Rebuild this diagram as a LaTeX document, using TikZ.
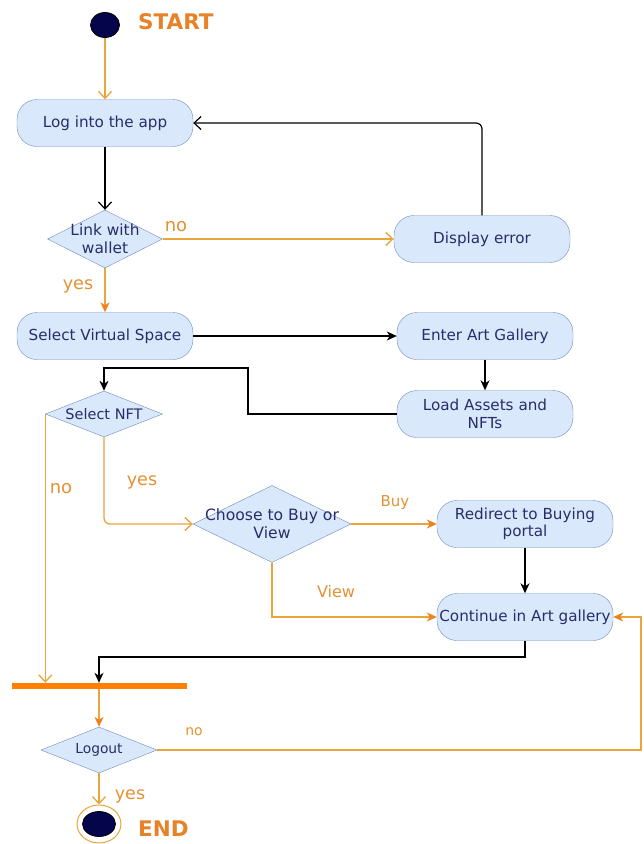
\documentclass[tikz,border=0pt]{standalone}
\usepackage{fontspec}
\setmainfont{DejaVu Sans}
\usetikzlibrary{shapes.geometric,arrows.meta,calc}
\definecolor{navyc}{RGB}{5,5,75}
\definecolor{boxfill}{RGB}{218,232,252}
\definecolor{boxline}{RGB}{110,140,185}
\definecolor{txtc}{RGB}{40,45,105}
\definecolor{lineor}{RGB}{232,165,60}
\definecolor{heador}{RGB}{240,130,30}
\definecolor{labor}{RGB}{228,145,50}
\definecolor{titor}{RGB}{232,130,40}
\definecolor{baror}{RGB}{255,128,0}
\begin{document}
\begin{tikzpicture}[x=1pt,y=-1pt,
  act/.style={draw=boxline, fill=boxfill, rounded corners=20pt, minimum width=176pt, minimum height=47pt, inner sep=0pt, align=center, text=txtc, font=\fontsize{15.2}{17.5}\selectfont},
  dec/.style={draw=boxline, fill=boxfill, diamond, inner sep=0pt},
  dectxt/.style={align=center, text=txtc, inner sep=0pt},
  bl/.style={draw=black, line width=1.2pt},
  ol/.style={draw=lineor, line width=1.3pt},
  openv/.style={-{Straight Barb[length=7pt,width=13pt]}},
  fillb/.style={-{Stealth[length=10pt,width=9pt,inset=3pt]}},
  fillo/.style={-{Stealth[length=10pt,width=9pt,inset=3pt,color=heador]}},
  lab/.style={text=labor, inner sep=0pt},
  title/.style={text=titor, font=\bfseries\fontsize{21.5}{24}\selectfont, inner sep=0pt},
]
\useasboundingbox (0,0) rectangle (644,844);

% start
\node[ellipse, draw=black, fill=navyc, minimum width=29pt, minimum height=25pt, inner sep=0pt, line width=0.8pt] (start) at (105,25) {};
\node[title, anchor=west] (starttxt) at (138,22) {START};

% activities
\node[act] (log) at (105,123) {Log into the app};
\node[act] (disp) at (482,239) {Display error};
\node[act] (sel) at (105,336) {Select Virtual Space};
\node[act] (enter) at (485,336) {Enter Art Gallery};
\node[act] (load) at (485,414) {Load Assets and\\NFTs};
\node[act] (redir) at (525,524) {Redirect to Buying\\portal};
\node[act] (cont) at (525,617) {Continue in Art gallery};

% decisions
\node[dec, minimum width=115pt, minimum height=58pt, label={[dectxt, font=\fontsize{15.4}{18}\selectfont]center:Link with\\wallet}] (link) at (105,239) {};
\node[dec, minimum width=117pt, minimum height=46pt, label={[dectxt, font=\fontsize{14.5}{17}\selectfont]center:Select NFT}] (nft) at (104,414) {};
\node[dec, minimum width=158pt, minimum height=77pt, label={[dectxt, font=\fontsize{15.6}{18}\selectfont]center:Choose to Buy or\\View}] (choose) at (272,524) {};
\node[dec, minimum width=116pt, minimum height=46pt, label={[dectxt, font=\fontsize{13.8}{16}\selectfont]center:Logout}] (logout) at (99,750) {};

% bar
\node[fill=baror, minimum width=175pt, minimum height=6pt, inner sep=0pt] (bar) at (99,686) {};

% end
\node[ellipse, draw=lineor, fill=white, minimum width=44pt, minimum height=38pt, inner sep=0pt, line width=1pt] (end) at (99,824) {};
\node[ellipse, draw=black, fill=navyc, minimum width=33pt, minimum height=25pt, inner sep=0pt, line width=0.8pt] (endin) at (end.center) {};
\node[title, anchor=west] (endtxt) at (138,829) {END};

% connectors
\draw[ol, openv] (start) -- (log);
\draw[bl, openv] (log) -- (link);
\draw[ol, openv] (link.east) -- (disp.west);
\node[lab, font=\fontsize{18}{20}\selectfont] (lno1) at (176,227) {no};
\draw[bl, openv, rounded corners=6pt] (disp.north) |- (log.east);
\draw[ol, fillo] (link.south) -- (sel.north);
\node[lab, font=\fontsize{17.5}{20}\selectfont] (lyes1) at (78,286) {yes};
\draw[bl, fillb] (sel.east) -- (enter.west);
\draw[bl, fillb] (enter) -- (load);
\coordinate (j1) at (248,368);
\draw[bl, fillb] (load.west) -| (j1) -| (nft.north);
\draw[ol, openv] (nft.west) -- (nft.west |- bar.north);
\node[lab, font=\fontsize{18}{20}\selectfont] (lno2) at (61,489) {no};
\draw[ol, openv, rounded corners=6pt] (nft.south) |- (choose.west);
\node[lab, font=\fontsize{17.5}{20}\selectfont] (lyes2) at (142,482) {yes};
\draw[ol, fillo] (choose.east) -- (redir.west);
\node[lab, font=\fontsize{15}{17}\selectfont] (lbuy) at (395,503) {Buy};
\draw[ol, fillo] (choose.south) |- (cont.west);
\node[lab, font=\fontsize{16}{18}\selectfont] (lview) at (336,592) {View};
\draw[bl, fillb] (redir) -- (cont);
\coordinate (j2) at (525,657);
\draw[bl, fillb] (cont.south) -- (j2) -| (bar.north);
\draw[ol, fillo] (bar.south) -- (logout.north);
\coordinate (j3) at (641,750);
\draw[ol, fillo] (logout.east) -- (j3) |- (cont.east);
\node[lab, font=\fontsize{14}{16}\selectfont] (lno3) at (194,732) {no};
\draw[ol, openv] (logout.south) -- (end.north);
\node[lab, font=\fontsize{17.5}{20}\selectfont] (lyes3) at (130,796) {yes};
\end{tikzpicture}
\end{document}
